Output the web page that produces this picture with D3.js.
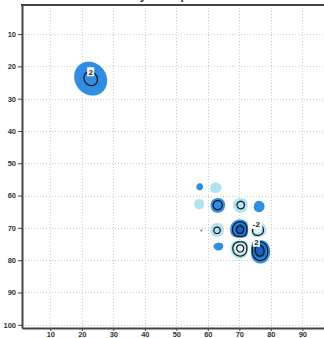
<!DOCTYPE html>
<html>
<head>
<meta charset="utf-8">
<script src="https://cdn.jsdelivr.net/npm/d3@7"></script>
<style>
  body { margin: 0; background: #fff; }
  svg { display: block; }
</style>
</head>
<body>
<svg id="chart" width="324" height="338"></svg>
<script>
// Gaussian bumps that make up the field: centre, amplitude, spreads, tilt (degrees)
const bumpX     = [22.8, 57.6, 62.4, 70.6, 57.3, 63.1, 70.5, 76.1, 58.1, 62.9, 70.3, 75.7, 63.4, 70.3, 76.4];
const bumpY     = [23.8, 57.4, 57.7, 58.5, 62.6, 62.9, 62.9, 63.4, 70.8, 70.8, 70.6, 70.8, 75.6, 76.3, 77.0];
const bumpAmp   = [2.3, 1.41, -1.75, 1.08, -1.56, 3.0, -2.52, 1.65, 1.08, -2.42, 5.0, -3.7, 1.48, -5.0, 5.5];
const bumpSx    = [4.3, 1.6, 1.9, 1.5, 1.8, 1.65, 1.85, 1.9, 1.5, 1.75, 1.85, 1.8, 1.9, 1.8, 1.8];
const bumpSy    = [3.8, 1.6, 1.7, 1.5, 1.8, 1.65, 1.85, 1.8, 1.5, 1.75, 1.85, 1.8, 1.6, 1.8, 2.2];
const bumpTilt  = [45, 0, 0, 0, 0, 0, 0, 0, 0, 0, 0, 0, 0, 0, -15];

// Filled bands (|value| above each level) and line levels
const posFillLevels = [1, 3];
const posFillColors = ["#2f8de4", "#1863c0"];
const negFillLevels = [1, 3];                 // applied to -value
const negFillColors = ["#afe3f1", "#e0f4fa"];
const lineLevels    = [-4, -2, 2, 4];

// Contour labels: level and the spot near which it sits
const labelLevels = [2, -2, 2];
const labelX      = [22.9, 75.2, 75.1];
const labelY      = [20.9, 68.1, 73.7];

const xTicks = [10, 20, 30, 40, 50, 60, 70, 80, 90];
const yTicks = [10, 20, 30, 40, 50, 60, 70, 80, 90, 100];
const title = "Toy example";

const W = 324, H = 338;
const plotLeft = 22, plotTop = 5, plotBottom = 328, plotRight = 337;
const x = d3.scaleLinear().domain([1, 101]).range([plotLeft, plotRight]);
const y = d3.scaleLinear().domain([1, 101]).range([plotTop, plotBottom]);

const svg = d3.select("#chart");

svg.append("text")
  .attr("x", W / 2).attr("y", -1)
  .attr("text-anchor", "middle")
  .attr("font-family", "Liberation Sans, Arial, sans-serif")
  .attr("font-weight", "bold").attr("font-size", 12)
  .attr("fill", "#333")
  .text(title);

svg.append("defs").append("clipPath").attr("id", "plot")
  .append("rect").attr("x", plotLeft).attr("y", plotTop)
  .attr("width", plotRight - plotLeft).attr("height", plotBottom - plotTop);

// grid lines
const grid = svg.append("g").attr("stroke", "#cccccc").attr("stroke-width", 1)
  .attr("stroke-dasharray", "1,2");
xTicks.forEach(t => grid.append("line")
  .attr("x1", Math.round(x(t)) + 0.5).attr("x2", Math.round(x(t)) + 0.5)
  .attr("y1", plotTop).attr("y2", plotBottom));
yTicks.forEach(t => grid.append("line")
  .attr("y1", Math.round(y(t)) + 0.5).attr("y2", Math.round(y(t)) + 0.5)
  .attr("x1", plotLeft).attr("x2", plotRight));

// sample the field on a fine grid
const step = 0.2, x0 = 1, n = 501;
const values = new Float64Array(n * n);
for (let b = 0; b < bumpX.length; b++) {
  const th = bumpTilt[b] * Math.PI / 180, c = Math.cos(th), s = Math.sin(th);
  const sx = bumpSx[b], sy = bumpSy[b], A = bumpAmp[b];
  const reach = 5 * Math.max(sx, sy);
  const i0 = Math.max(0, Math.floor((bumpX[b] - reach - x0) / step)), i1 = Math.min(n - 1, Math.ceil((bumpX[b] + reach - x0) / step));
  const j0 = Math.max(0, Math.floor((bumpY[b] - reach - x0) / step)), j1 = Math.min(n - 1, Math.ceil((bumpY[b] + reach - x0) / step));
  for (let j = j0; j <= j1; j++) {
    const dy = x0 + j * step - bumpY[b];
    for (let i = i0; i <= i1; i++) {
      const dx = x0 + i * step - bumpX[b];
      const u = dx * c + dy * s, v = -dx * s + dy * c;
      values[j * n + i] += A * Math.exp(-(u * u) / (2 * sx * sx) - (v * v) / (2 * sy * sy));
    }
  }
}
const negValues = values.map(v => -v);

const gridToScreen = (gx, gy) => [x(x0 + (gx - 0.5) * step), y(x0 + (gy - 0.5) * step)];
const toScreen = d3.geoTransform({
  point: function (gx, gy) {
    const p = gridToScreen(gx, gy);
    this.stream.point(p[0], p[1]);
  }
});
const path = d3.geoPath(toScreen);
const contours = d3.contours().size([n, n]);

const plot = svg.append("g").attr("clip-path", "url(#plot)");

posFillLevels.forEach((lv, k) => {
  plot.append("path").attr("d", path(contours.contour(values, lv)))
    .attr("fill", posFillColors[k]);
});
negFillLevels.forEach((lv, k) => {
  plot.append("path").attr("d", path(contours.contour(negValues, lv)))
    .attr("fill", negFillColors[k]);
});

const lineGeoms = {};
lineLevels.forEach(lv => {
  const g = lv > 0 ? contours.contour(values, lv) : contours.contour(negValues, -lv);
  lineGeoms[lv] = g;
  plot.append("path").attr("d", path(g))
    .attr("fill", "none").attr("stroke", "#111").attr("stroke-width", 1.2);
});

// labels snapped to the nearest point of their contour line
labelLevels.forEach((lv, k) => {
  const g = lineGeoms[lv];
  let best = null, bd = Infinity;
  const tx = x(labelX[k]), ty = y(labelY[k]);
  g.coordinates.forEach(poly => poly.forEach(ring => ring.forEach(([gx, gy]) => {
    const p = gridToScreen(gx, gy);
    const d = (p[0] - tx) ** 2 + (p[1] - ty) ** 2;
    if (d < bd) { bd = d; best = p; }
  })));
  if (!best) best = [tx, ty];
  const lab = plot.append("g").attr("transform", `translate(${best[0]},${best[1]})`);
  const txt = String(lv);
  const w = txt.length * 5 + 2;
  lab.append("rect").attr("x", -w / 2).attr("y", -4.5).attr("width", w).attr("height", 9)
    .attr("fill", "#fff");
  lab.append("text").attr("text-anchor", "middle").attr("dy", "0.35em")
    .attr("font-family", "Liberation Sans, Arial, sans-serif")
    .attr("font-weight", "bold").attr("font-size", 8).attr("fill", "#222")
    .text(txt);
});

// axes
const axisColor = "#444";
const yAxis = svg.append("g").attr("transform", `translate(${plotLeft},0)`)
  .call(d3.axisLeft(y).tickValues(yTicks).tickSize(4).tickPadding(2).tickSizeOuter(0));
const xAxis = svg.append("g").attr("transform", `translate(0,${plotBottom})`)
  .call(d3.axisBottom(x).tickValues(xTicks).tickSize(3).tickPadding(1).tickSizeOuter(0));
[xAxis, yAxis].forEach(a => {
  a.select(".domain").attr("stroke", axisColor).attr("stroke-width", 2);
  a.selectAll(".tick line").attr("stroke", axisColor);
  a.selectAll(".tick text").attr("fill", "#333")
    .attr("font-family", "Liberation Sans, Arial, sans-serif")
    .attr("font-weight", "bold").attr("font-size", 7.5);
});
xAxis.selectAll(".tick text").attr("y", 8.5).attr("dy", null);
svg.append("line").attr("x1", plotLeft - 1).attr("x2", plotRight).attr("y1", plotTop).attr("y2", plotTop)
  .attr("stroke", axisColor).attr("stroke-width", 2);
</script>
</body>
</html>
